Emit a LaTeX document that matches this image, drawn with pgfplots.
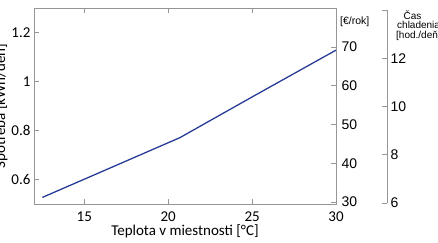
\documentclass[border=0pt]{standalone}
\usepackage{pgfplots}
\pgfplotsset{compat=1.18}
\usepackage{fontspec}
\setmainfont{Carlito}
\newfontfamily\arialf{Liberation Sans}
\definecolor{axgray}{RGB}{150,150,150}
\definecolor{lineblue}{RGB}{40,60,150}
\begin{document}
\begin{tikzpicture}
\useasboundingbox (0,0) rectangle (438pt,242pt);
\clip (0,0) rectangle (438pt,242pt);
% main axis
\begin{axis}[
  at={(34pt,38pt)}, anchor=south west, scale only axis,
  width=302pt, height=196pt,
  xmin=12, xmax=30, ymin=0.5, ymax=1.3,
  xtick={15,20,25,30}, ytick={0.6,0.8,1,1.2},
  xtick pos=both, ytick pos=left, tick align=inside,
  major tick length=5pt,
  axis line style={axgray, line width=0.8pt},
  tick style={axgray, line width=0.6pt},
  /pgf/number format/assume math mode=true,
  ticklabel style={font=\fontsize{15}{18}\selectfont},
  xticklabel style={anchor=base, yshift=-17pt},
  label style={font=\fontsize{15}{18}\selectfont},
  xlabel={Teplota v miestnosti [°C]},
  xlabel style={at={(axis description cs:0.5,0)}, anchor=base, yshift=-31pt},
  ylabel={Spotreba [kWh/deň]},
  ylabel style={at={(axis description cs:-0.096,0.5)}, anchor=base},
]
\addplot[lineblue, line width=1.3pt] coordinates {
  (12.5,0.527) (16.0,0.631) (20.7,0.771) (25.0,0.937) (30,1.128)
};
\end{axis}
% second right axis (EUR/rok)
\begin{axis}[
  at={(34pt,40pt)}, anchor=south west, scale only axis,
  width=302pt, height=194pt,
  xmin=12, xmax=30, ymin=30, ymax=80,
  axis x line=none, axis y line*=right,
  ytick={30,40,50,60,70}, tick align=inside,
  major tick length=5pt,
  axis line style={axgray, line width=0.8pt},
  tick style={axgray, line width=0.6pt},
  /pgf/number format/assume math mode=true,
  ticklabel style={font=\arialf\fontsize{14}{16}\selectfont},
  yticklabel style={xshift=2pt},
]
\addplot[draw=none] coordinates {(12,30)};
\end{axis}
% third axis (cas chladenia)
\begin{axis}[
  at={(85pt,39pt)}, anchor=south west, scale only axis,
  width=302pt, height=193pt,
  xmin=12, xmax=30, ymin=6, ymax=14,
  axis x line=none, axis y line*=right,
  ytick={6,8,10,12,14}, yticklabels={6,8,10,12,{}},
  tick align=inside,
  major tick length=5pt,
  axis line style={axgray, line width=0.8pt},
  tick style={axgray, line width=0.6pt},
  /pgf/number format/assume math mode=true,
  ticklabel style={font=\arialf\fontsize{14}{16}\selectfont},
]
\addplot[draw=none] coordinates {(12,6)};
\end{axis}
\node[font=\arialf\fontsize{10.5}{12}\selectfont, anchor=base west, inner sep=0pt] at (340pt,218pt) {[€/rok]};
\node[font=\arialf\fontsize{10}{11}\selectfont, anchor=base] at (412.5pt,223pt) {Čas};
\node[font=\arialf\fontsize{10}{11}\selectfont, anchor=base west, inner sep=0pt] at (397pt,214pt) {chladenia};
\node[font=\arialf\fontsize{10}{11}\selectfont, anchor=base west, inner sep=0pt] at (396pt,204pt) {[hod./deň]};
\end{tikzpicture}
\end{document}
